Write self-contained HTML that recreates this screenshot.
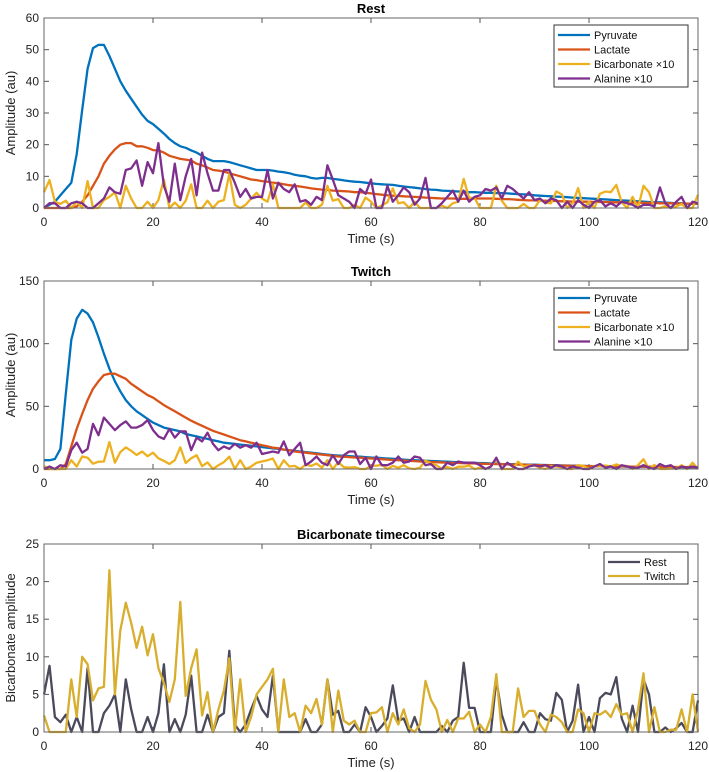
<!DOCTYPE html>
<html><head><meta charset="utf-8">
<style>
html,body{margin:0;padding:0;background:#fff;}
svg{display:block;font-family:"Liberation Sans",Arial,sans-serif;}
</style></head>
<body>
<svg id="chart" width="709" height="772" viewBox="0 0 709 772" xmlns="http://www.w3.org/2000/svg"></svg>
<script>
// ---- data (time in seconds = index) ----
const restPyruvate=[0,1,2,4,6,8,17,31,44,50.5,51.5,51.5,48,44,40,37,34.5,32,29.5,27.5,26.5,25,23.5,21.8,20.5,19.5,19,18.2,17.5,16.5,15.5,14.8,14.8,14.8,14.5,14,13.5,13,12.5,12,12,12,11.8,11.5,11.3,11,10.5,10.2,10,9.5,9.3,9.5,9.5,9.2,9,8.7,8.5,8.3,8.2,8,7.8,7.6,7.5,7.4,7.3,7,6.8,6.6,6.4,6.2,6,5.8,5.7,5.5,5.4,5.3,5.2,5.2,5,5,4.9,4.8,4.8,4.7,4.7,4.6,4.5,4.4,4.3,4.2,4,3.9,3.8,3.7,3.6,3.5,3.4,3.3,3.2,3.1,3,2.9,2.8,2.7,2.6,2.5,2.4,2.3,2.2,2.1,2,1.9,1.8,1.8,1.7,1.6,1.5,1.5,1.4,1.3,1.3];
const restLactate=[0,0,0,0,0,0,0.5,2,4,7,10,14,16.5,18.5,20,20.5,20.5,19.5,19.5,19,18.3,18.2,17.5,16.5,16,15.5,15.3,15,14,13.5,12.8,12,11.8,11.5,11,10.5,10,9.5,9,8.8,8.5,8.3,8,7.8,7.5,7.2,7,6.8,6.5,6.2,6,5.8,5.7,5.5,5.4,5.3,5.2,5,5,4.8,4.6,4.4,4.2,4,3.9,3.8,3.7,3.6,3.5,3.4,3.3,3.2,3.1,3,3,3,2.9,2.9,2.9,3,3,3,3,2.9,2.8,2.8,2.7,2.6,2.5,2.4,2.4,2.3,2.3,2.2,2.2,2.1,2.1,2,2,2,2,1.9,1.9,1.9,1.8,1.8,1.8,1.7,1.7,1.7,1.6,1.6,1.6,1.5,1.5,1.5,1.4,1.4,1.4,1.4,1.3];
const restAlanine=[0,1.5,1.5,0,0,1.5,2,1.5,0,0,1.5,3,6.5,5,4.5,12,12.5,15,7,14.5,11,20.5,7,2,14,2.5,10,15.5,4,17.5,11,5.5,5.5,12,12,8,3.5,6,3,3.5,3.5,12,3,8,6,5,7.5,2,2.5,1,3.5,2.5,13.5,9,4,3,2,0,6,4.5,9,0,0,7,2,4,6.5,5,1,3,9.5,0,0,1.5,3.5,5.5,2,5.5,2,3.5,4,6,5.5,6.5,3,7,6,4.5,3,5,2.5,3,1.5,3,2.5,0,2,0,2.5,1,0,2,2.5,0.5,1.5,0.5,2,1.5,1,0,1,1,0.5,6.5,1.5,0,2,3.5,0,2,1.5];
const restBicarb=[5,8.8,2,1.3,2.3,0,2,0,8.5,0,0,2.5,3.5,5,0,7,3,0,0,2,0,2.5,9,0,1.7,0,2.3,7.5,0,0,2.3,0,2,2.5,10.8,1,0,1,3,4.8,3,2,7.5,0,0,0,0,0,1.7,0,0,1,7,2.3,2.8,0,0,1,0,3.3,2,0,0.8,1.8,6.2,1.5,1.8,0,2,0,0,0,0,0.8,0,1.5,2,9.2,3.2,3.2,0,0,0,7,2.3,0,0,0,1.3,0,0,2.5,1.7,1.5,5.2,4.3,0,1.5,6.3,0,2,0,4.5,5.2,5,7.3,1.8,0,3.5,0,7,5,0,0,0.6,0,0.5,1.2,0,0,4.2];
const twitchPyruvate=[7,7,8,16,60,103,120,127,124,117,105,92,80,70,62,55,50,46,43,40,37,35,33,32,31,30,28,27,26,25,24,23,22,21,20.5,20,19.5,19,18.5,18,17.5,17,16.5,16,15.5,15,14.5,14,13.5,13,12.5,12,11.5,11,10.8,10.5,10.2,10,9.8,9.5,9.2,9,8.7,8.4,8.1,7.8,7.5,7.2,7,6.8,6.6,6.4,6.2,6,5.8,5.6,5.4,5.2,5,4.9,4.8,4.6,4.4,4.2,4,3.9,3.8,3.7,3.6,3.5,3.4,3.3,3.2,3.1,3,2.9,2.8,2.7,2.6,2.5,2.4,2.3,2.2,2.1,2.1,2,2,1.9,1.9,1.8,1.8,1.7,1.7,1.6,1.6,1.5,1.5,1.5,1.4,1.4,1.4];
const twitchLactate=[0,0,0,0,4,18,32,44,55,64,70,75,76,76,74,72,68,65,62,59,57,54,51,48.5,46,43.5,41,38.5,36.5,34.5,32.5,30.5,29,27.5,26,24.5,23,22,21,20,19,18,17,16.5,15.5,15,14,13.5,13,12.5,12,11.5,11,10.5,10,9.8,9.5,9.2,9,8.7,8.4,8.1,7.8,7.5,7.2,7,6.8,6.5,6.3,6,5.8,5.6,5.4,5.2,5,4.9,4.8,4.6,4.5,4.4,4.2,4.1,4,3.9,3.8,3.7,3.6,3.5,3.4,3.3,3.2,3.1,3,2.9,2.8,2.7,2.6,2.5,2.5,2.4,2.3,2.3,2.2,2.2,2.1,2.1,2,2,1.9,1.9,1.8,1.8,1.8,1.7,1.7,1.7,1.6,1.6,1.6,1.5,1.5];
const twitchAlanine=[0,2,0,3,2,15,21,13,16,36,27,41,36,31,35,38,33,33,35,39,31,26,24,32,25,30,30,15,25,22,29,20,15,18,16,20,17,19,17,21,12,13,14,13,22,11,16,21,3,6,10,5,3,11,4,11,14,14,4,9,0,10,3,3,5,10,5,6,10,9,3,4,0,0,5,3,6,5,5,5,3,0,2,9,0,5,2,0,0,2,3,2,3,1,3,2,0,2,1,0,0,2,4,1,2,0,3,2,1,1,3,1,0,4,2,3,0,2,1,2,1];
const twitchBicarb=[2.2,0,0,0,0,7,2,10,9,4.2,5.8,6,21.5,5,13.5,17.2,14.5,11.2,14,10.2,13,8.5,6.5,4,7,17.3,4.8,8.5,11,2.2,5.3,0,3,5.5,9.8,0,7,0,2,5,6,7,8.4,0,7,2,2.5,0,3.5,2.5,4.4,1,7,0,5.5,1.5,1,1.5,0,0,2.5,2.6,3.3,0,2.5,1,3,0.5,0,1,6.8,4.3,3,0,1.6,0,1.8,1.8,2.7,0,1,0,2,7.7,0,0,0,5.8,2,2.8,2.8,1,0,2.3,2,1.3,0,0,3,2.5,0,2.5,2.3,2.8,2,3.7,2.3,2.5,0,3,7.8,0,3.3,0,0,0.3,0.3,3,0,5,0];
const xTicks=[0,20,40,60,80,100,120];
const ticks1=[0,10,20,30,40,50,60];
const ticks2=[0,50,100,150];
const ticks3=[0,5,10,15,20,25];

const NS="http://www.w3.org/2000/svg";
const svg=document.getElementById('chart');
function mk(tag,attrs,parent,name,inter){const e=document.createElementNS(NS,tag);for(const k in attrs)e.setAttribute(k,attrs[k]);


(parent||svg).appendChild(e);return e;}
const X0=44,X1=698;
function panel(o){
  const g=mk('g',{},svg,o.id,false);
  const sx=v=>X0+(v/120)*(X1-X0);
  const sy=v=>o.yb-(v/o.ymax)*(o.yb-o.yt);
  mk('rect',{x:X0,y:o.yt,width:X1-X0,height:o.yb-o.yt,fill:'#fff',stroke:'none'},g,'plot-area',false);
  const t=mk('text',{x:(X0+X1)/2,y:o.yt-5,'text-anchor':'middle','font-size':13,'font-weight':'bold',fill:'#000'},g,'chart-title',false);t.textContent=o.title;
  xTicks.forEach(v=>{
    mk('line',{x1:sx(v),x2:sx(v),y1:o.yb,y2:o.yb-5,stroke:'#555'},g,'x-tick',false);
    mk('line',{x1:sx(v),x2:sx(v),y1:o.yt,y2:o.yt+5,stroke:'#555'},g,'x-tick-top',false);
    const l=mk('text',{x:sx(v),y:o.yb+18,'text-anchor':'middle','font-size':12,fill:'#222'},g,'x-tick-label',false);l.textContent=v;
  });
  o.ticks.forEach(v=>{
    mk('line',{x1:X0,x2:X0+5,y1:sy(v),y2:sy(v),stroke:'#555'},g,'y-tick',false);
    mk('line',{x1:X1,x2:X1-5,y1:sy(v),y2:sy(v),stroke:'#555'},g,'y-tick-right',false);
    const l=mk('text',{x:X0-5,y:sy(v)+4,'text-anchor':'end','font-size':12,fill:'#222'},g,'y-tick-label',false);l.textContent=v;
  });
  const xl=mk('text',{x:(X0+X1)/2,y:o.yb+35,'text-anchor':'middle','font-size':13,fill:'#222'},g,'x-axis-title',false);xl.textContent='Time (s)';
  const cy=(o.yt+o.yb)/2;
  const yl=mk('text',{x:15,y:cy,'text-anchor':'middle','font-size':13,fill:'#222',transform:`rotate(-90 15 ${cy})`},g,'y-axis-title',false);yl.textContent=o.ylabel;
  o.series.forEach(s=>{
    const d=s.data.map((v,i)=>(i?'L':'M')+sx(i).toFixed(1)+','+sy(v).toFixed(1)).join('');
    mk('path',{d:d,fill:'none',stroke:s.color,'stroke-width':2.3,'stroke-linejoin':'round'},g,s.name,false);
  });
  mk('rect',{x:X0,y:o.yt,width:X1-X0,height:o.yb-o.yt,fill:'none',stroke:'#666','stroke-width':1},g,'axes-box',false);
  const L=o.leg;
  const lg=mk('g',{},g,'legend',false);
  mk('rect',{x:L.x,y:L.y,width:L.w,height:L.h,fill:'#fff',stroke:'#333'},lg,'legend-box',false);
  o.series.forEach((s,i)=>{
    const yy=L.y+10+i*L.step;
    mk('line',{x1:L.x+4,x2:L.x+36,y1:yy,y2:yy,stroke:s.color,'stroke-width':2.3},lg,'legend-swatch',false);
    const tx=mk('text',{x:L.x+40,y:yy+4,'font-size':11,fill:'#111'},lg,'legend-entry',false);tx.textContent=s.label;
  });
}
const C={p:'#0072BD',l:'#D95319',b:'#EDB120',a:'#7E2F8E'};
panel({id:'rest-panel',title:'Rest',yt:18,yb:208,ymax:60,ticks:ticks1,ylabel:'Amplitude (au)',
 leg:{x:554,y:25,w:134,h:62,step:14.5},
 series:[{name:'pyruvate-line',label:'Pyruvate',data:restPyruvate,color:C.p},
 {name:'lactate-line',label:'Lactate',data:restLactate,color:C.l},
 {name:'bicarbonate-line',label:'Bicarbonate ×10',data:restBicarb,color:C.b},
 {name:'alanine-line',label:'Alanine ×10',data:restAlanine,color:C.a}]});
panel({id:'twitch-panel',title:'Twitch',yt:281,yb:469,ymax:150,ticks:ticks2,ylabel:'Amplitude (au)',
 leg:{x:554,y:288,w:134,h:62,step:14.5},
 series:[{name:'pyruvate-line',label:'Pyruvate',data:twitchPyruvate,color:C.p},
 {name:'lactate-line',label:'Lactate',data:twitchLactate,color:C.l},
 {name:'bicarbonate-line',label:'Bicarbonate ×10',data:twitchBicarb,color:C.b},
 {name:'alanine-line',label:'Alanine ×10',data:twitchAlanine,color:C.a}]});
panel({id:'bicarbonate-panel',title:'Bicarbonate timecourse',yt:544,yb:732,ymax:25,ticks:ticks3,ylabel:'Bicarbonate amplitude',
 leg:{x:604,y:552,w:84,h:32,step:14},
 series:[{name:'rest-line',label:'Rest',data:restBicarb,color:'#4a4a5c'},
 {name:'twitch-line',label:'Twitch',data:twitchBicarb,color:'#D8AE2E'}]});
</script>
</body></html>
